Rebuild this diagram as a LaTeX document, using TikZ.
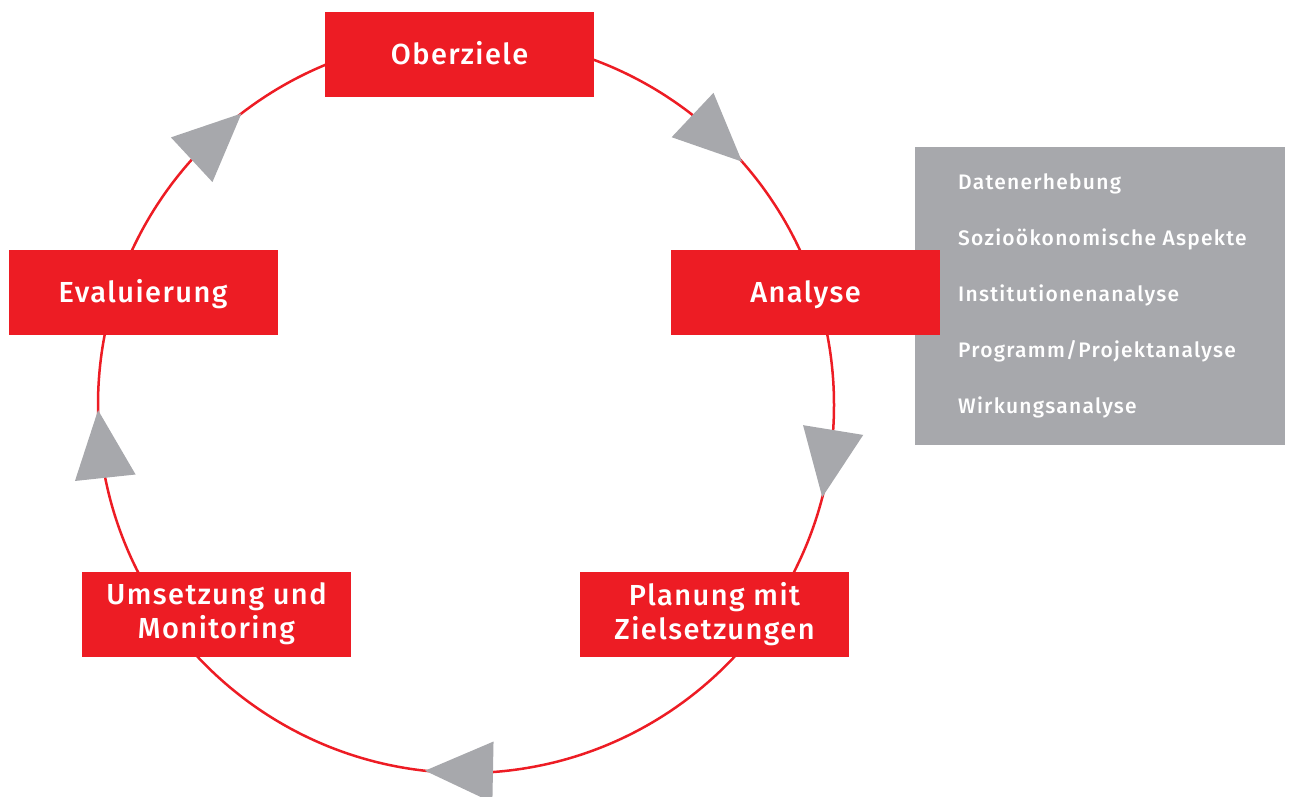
\documentclass[tikz,border=0pt]{standalone}
\usepackage{fontspec}
\setmainfont{Fira Sans}
\newfontfamily\stagefont[LetterSpace=5]{Fira Sans Medium}
\newfontfamily\itemfont[LetterSpace=6]{Fira Sans Medium}
\usetikzlibrary{calc}
\definecolor{cyclered}{RGB}{237,28,36}
\definecolor{cyclegray}{RGB}{167,168,172}
\tikzset{
  stagebox/.style={fill=cyclered, text=white, minimum width=269pt, minimum height=85pt, inner sep=0pt, align=center, font=\stagefont\fontsize{29}{34}\selectfont},
  oneline/.style={text height=20pt, text depth=0pt},
  detailbox/.style={fill=cyclegray, minimum width=370pt, minimum height=298pt, inner sep=0pt},
  detailitem/.style={anchor=base west, text=white, inner sep=0pt, font=\itemfont\fontsize{21}{24}\selectfont},
  ring/.style={draw=cyclered, line width=2.5pt},
  turntip/.style={fill=cyclegray}
}

\begin{document}
\begin{tikzpicture}[x=1pt,y=1pt,yscale=-1,xscale=1]
\clip (0,0) rectangle (1293,796); %diagram frame

%Shape: Circle
\coordinate (hub) at (466,405);
\draw[ring] (hub) circle [radius=368pt];

%Shape: Triangles on the ring
\foreach \a in {-52,-138.2,3.9,85.8,168.6} {
  \coordinate (base) at ($(hub)+(\a:368)$);
  \coordinate (tip) at ($(hub)+(\a+10.6:368)$);
  \fill[turntip] (tip) -- ($(base)!30.5pt!90:(tip)$) -- ($(base)!30.5pt!-90:(tip)$) -- cycle;
}

%Shape: Rectangle
\node[detailbox] (details) at (1100,296) {};
% Text Node
\foreach \t [count=\i from 0] in {Datenerhebung,Sozioökonomische Aspekte,Institutionenanalyse,Programm/Projektanalyse,Wirkungsanalyse}
  \node[detailitem] (item\i) at (958,189+56*\i) {\t};

% Text Node
\node[stagebox,oneline] (oberziele) at (459.5,54) {Oberziele};
% Text Node
\node[stagebox,oneline] (analyse) at (805.5,292.5) {Analyse};
% Text Node
\node[stagebox,oneline] (evaluierung) at (143,292.5) {Evaluierung};
% Text Node
\node[stagebox] (umsetzung) at (216.5,614) {Umsetzung und\\Monitoring};
% Text Node
\node[stagebox] (planung) at (714.5,614) {Planung mit\\Zielsetzungen};

\end{tikzpicture}
\end{document}
